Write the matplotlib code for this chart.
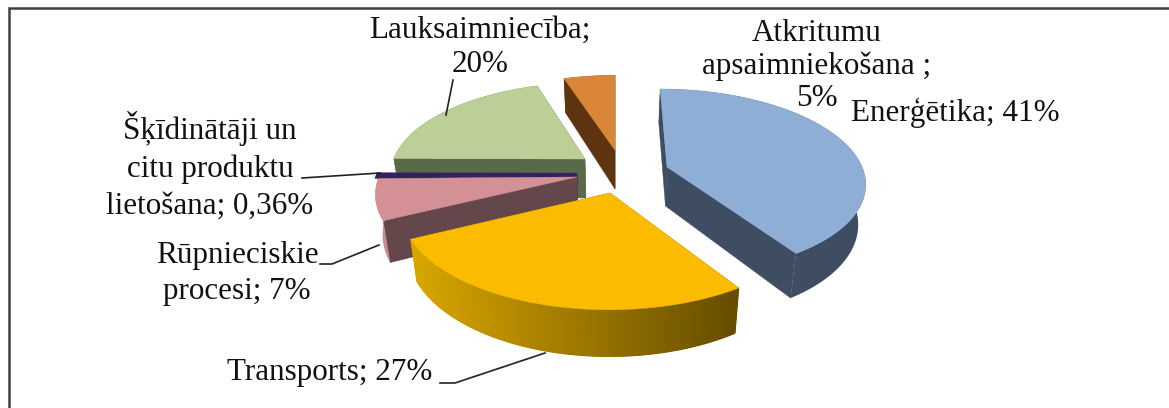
import numpy as np
import matplotlib
matplotlib.use("Agg")
import matplotlib.pyplot as plt
from matplotlib.patches import Polygon, Rectangle
from matplotlib.colors import to_rgb

# data (clockwise from 12 o'clock)
categories = ["Enerģētika", "Transports", "Rūpnieciskie procesi",
              "Šķīdinātāji un citu produktu lietošana", "Lauksaimniecība",
              "Atkritumu apsaimniekošana"]
values = [41, 27, 7, 0.36, 20, 5]
value_labels = ["41%", "27%", "7%", "0,36%", "20%", "5%"]

# styling / layout of the exploded 3D pie
top_colors = ["#8eaed6", "#fabb00", "#d49195", "#33235c", "#bccf97", "#d98638"]
rim_colors = [("#3f4d63", "#3f4d63"), ("#d9a600", "#654c00"), ("#c98b8f", "#c98b8f"),
              ("#201a38", "#201a38"), ("#596a48", "#596a48"), ("#5e3410", "#5e3410")]
cut_colors = ["#3f4d63", "#8a6a00", "#63474a", "#201a38", "#596a48", "#5e3410"]
apex_x = [667, 610, 577, 577, 585, 615]
apex_y = [167, 193, 177, 175, 159, 150]
width_scale = [0.985, 0.955, 0.97, 0.98, 0.99, 1.0]
F, G, D0, DEPTH, VX, LEAN = 1307, 593, 6.6, 39, 615, 0.03

fig = plt.figure(figsize=(11.69, 4.08), dpi=100, facecolor="white")
ax = fig.add_axes([0, 0, 1, 1])
ax.set_xlim(0, 1169)
ax.set_ylim(408, 0)
ax.axis("off")
ax.add_patch(Rectangle((8.5, 8), 1500, 600, fc="white", ec="#404040", lw=1.8, zorder=0))


def project(th, i):
    ax0, ay0 = apex_x[i], apex_y[i]
    D = D0 - (ay0 - 167) * 0.02
    X, Y = np.sin(th) * width_scale[i], np.cos(th)
    k = D / (D + Y)
    sx = ax0 + F * X / (D + Y) + (ax0 - VX) * (k - 1)
    sy = ay0 - G * Y / (D + Y)
    return sx, sy, sx + (VX - sx) * LEAN, sy + DEPTH * k


edges = np.radians(np.concatenate([[0], np.cumsum(values)]) * 360 / np.sum(values))
order = [5, 4, 3, 2, 0, 1]
for z, i in enumerate(order):
    base = 2 + z * 3
    n = max(int(np.degrees(edges[i + 1] - edges[i]) * 2), 2) + 1
    th = np.linspace(edges[i], edges[i + 1], n)
    px, py, bx, by = project(th, i)
    ax0, ay0 = apex_x[i], apex_y[i]
    abx, aby = ax0 + (VX - ax0) * LEAN, ay0 + DEPTH
    # radial cut faces
    for e in (0, -1):
        ax.add_patch(Polygon([(ax0, ay0), (px[e], py[e]), (bx[e], by[e]), (abx, aby)],
                             fc=cut_colors[i], ec=cut_colors[i], lw=0.3, zorder=base))
    # outer rim, shaded from the left to the right end of the arc
    c0, c1 = np.array(to_rgb(rim_colors[i][0])), np.array(to_rgb(rim_colors[i][1]))
    band = np.vstack([np.column_stack([px, py]), np.column_stack([bx, by])[::-1]])
    ax.add_patch(Polygon(band, fc=tuple((c0 + c1) / 2), ec="none", zorder=base + 1))
    if rim_colors[i][0] != rim_colors[i][1]:
        xmin, xmax = px.min(), px.max()
        for j in range(n - 1):
            t = ((px[j] + px[j + 1]) / 2 - xmin) / max(xmax - xmin, 1)
            col = tuple(c0 + (c1 - c0) * t)
            ax.add_patch(Polygon([(px[j], py[j]), (px[j + 1], py[j + 1]),
                                  (bx[j + 1], by[j + 1]), (bx[j], by[j])],
                                 fc=col, ec=col, lw=0.8, zorder=base + 1))
    # top face (the tiny solvent slice keeps a visible stroke)
    lw = 3.0 if values[i] < 1 else 0.3
    ax.add_patch(Polygon(np.vstack([[ax0, ay0], np.column_stack([px, py])]),
                         fc=top_colors[i], ec=top_colors[i], lw=lw, zorder=base + 2))

# leader lines
leaders = [([453, 446], [80, 115]),
           ([440, 455, 545], [383, 383, 353]),
           ([320, 332, 379], [264, 264, 245]),
           ([302, 380], [178, 173])]
for lx, ly in leaders:
    ax.plot(lx, ly, color="#222222", lw=1.2, zorder=30)

# labels
font = dict(family="Liberation Serif", fontsize=22.4, color="#111111", ha="center", va="baseline", zorder=40)
ax.text(480, 72, f"Lauksaimniecība;\n{value_labels[4]}", linespacing=1.22, **font)
ax.text(817, 74, "Atkritumu\napsaimniekošana ;", linespacing=1.16, **font)
ax.text(817, 106, value_labels[5], **font)
ax.text(955, 121, f"Enerģētika; {value_labels[0]}", **font)
ax.text(210, 214, f"Šķīdinātāji un\ncitu produktu\nlietošana; {value_labels[3]}", linespacing=1.36, **font)
ax.text(237, 299, f"Rūpnieciskie\nprocesi; {value_labels[2]}", linespacing=1.3, **font)
ax.text(330, 380, f"Transports; {value_labels[1]}", **font)

fig.savefig("out.png", dpi=100, facecolor="white")
